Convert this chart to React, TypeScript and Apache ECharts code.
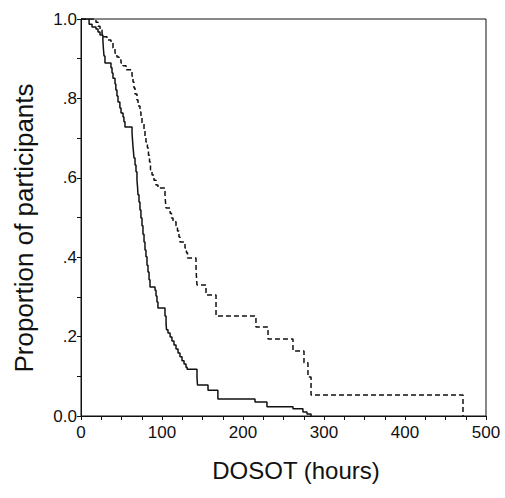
import React, { useEffect, useRef } from "react";
import * as echarts from "echarts";

// Kaplan-Meier style step curves: time (hours) and proportion remaining after each step
const solidTimes = [0, 10, 13.6, 18.5, 21, 23.5, 27, 27.6, 28.4, 29.6, 37, 38.3, 39.5, 42, 43, 44.4, 45.7, 48, 49.4, 51.9, 53, 54.3, 63, 63.6, 64.2, 64.8, 65.4, 66.7, 67.9, 69.1, 69.8, 70.4, 71.6, 72.8, 74, 75.3, 76.5, 77.8, 79, 80.2, 81.5, 82.7, 84, 85.2, 91.4, 92.6, 93.8, 95, 103.7, 105, 105.6, 107.4, 110, 112.3, 114.8, 117.3, 119.8, 122.2, 124.7, 127.2, 129.6, 131, 143.2, 143.8, 156.8, 169, 214.8, 229.6, 261.7, 274, 279, 284];
const solidSurv = [1, 0.987, 0.98, 0.975, 0.967, 0.96, 0.947, 0.927, 0.907, 0.889, 0.877, 0.864, 0.851, 0.836, 0.821, 0.806, 0.791, 0.776, 0.763, 0.753, 0.741, 0.728, 0.713, 0.695, 0.678, 0.665, 0.65, 0.632, 0.615, 0.594, 0.577, 0.557, 0.539, 0.519, 0.499, 0.479, 0.458, 0.438, 0.418, 0.401, 0.38, 0.363, 0.343, 0.325, 0.317, 0.302, 0.287, 0.272, 0.252, 0.232, 0.217, 0.209, 0.199, 0.189, 0.179, 0.169, 0.159, 0.149, 0.139, 0.131, 0.123, 0.118, 0.098, 0.078, 0.065, 0.043, 0.035, 0.023, 0.018, 0.01, 0.005, 0];

const dashedTimes = [0, 18.5, 21, 23.5, 26, 27.2, 32, 37, 39.5, 42, 44.4, 46.9, 49.4, 51.9, 55.6, 63, 64.2, 65.4, 66.7, 69.1, 70.4, 72.8, 74, 75.3, 77.8, 79, 80.2, 82, 83.3, 84.6, 85.8, 87.7, 90.1, 92.6, 95, 103.7, 104.3, 105, 110, 111.7, 113.6, 117.3, 119.1, 121, 122.2, 128.4, 130.2, 131.5, 142, 142.6, 143.2, 154.3, 166.7, 216, 230.9, 261.7, 275.3, 280.2, 284, 471.6];
const dashedSurv = [1, 0.992, 0.982, 0.972, 0.962, 0.955, 0.947, 0.94, 0.927, 0.914, 0.904, 0.897, 0.889, 0.882, 0.872, 0.856, 0.841, 0.826, 0.811, 0.796, 0.781, 0.766, 0.751, 0.736, 0.72, 0.705, 0.69, 0.675, 0.657, 0.64, 0.62, 0.607, 0.594, 0.582, 0.574, 0.557, 0.539, 0.524, 0.511, 0.499, 0.489, 0.479, 0.466, 0.451, 0.438, 0.423, 0.411, 0.398, 0.373, 0.348, 0.33, 0.305, 0.252, 0.224, 0.194, 0.164, 0.134, 0.098, 0.053, 0];

const xTitle = "DOSOT (hours)";
const yTitle = "Proportion of participants";

const FONT = "'Liberation Sans', Arial, sans-serif";

export default function App() {
  const ref = useRef<HTMLDivElement>(null);
  useEffect(() => {
    if (!ref.current) return;
    const chart = echarts.init(ref.current, undefined, { renderer: "svg" });
    const solid = solidTimes.map((t, i) => [t, solidSurv[i]]);
    const dashed = dashedTimes.map((t, i) => [t, dashedSurv[i]]);
    chart.setOption({
      animation: false,
      backgroundColor: "#fff",
      grid: {
        left: 81,
        top: 19,
        width: 405,
        height: 397,
        show: true,
        borderColor: "#111",
        borderWidth: 1,
        backgroundColor: "transparent",
      },
      xAxis: {
        type: "value",
        min: 0,
        max: 500,
        interval: 100,
        axisLine: { show: true, onZero: false, lineStyle: { color: "#111", width: 1 } },
        axisTick: { show: true, length: 4, lineStyle: { color: "#111" } },
        minorTick: { show: true, splitNumber: 4, length: 4, lineStyle: { color: "#111" } },
        splitLine: { show: false },
        axisLabel: { color: "#111", fontSize: 17, fontFamily: FONT, margin: 8 },
      },
      yAxis: {
        type: "value",
        min: 0,
        max: 1,
        interval: 0.2,
        axisLine: { show: true, onZero: false, lineStyle: { color: "#111", width: 1 } },
        axisTick: { show: true, length: 4, lineStyle: { color: "#111" } },
        minorTick: { show: true, splitNumber: 2, length: 4, lineStyle: { color: "#111" } },
        splitLine: { show: false },
        axisLabel: {
          color: "#111",
          fontSize: 17,
          fontFamily: FONT,
          margin: 4,
          formatter: (v: number) => {
            const s = v.toFixed(1);
            if (v === 0 || v === 1) return s;
            return s.replace(/^0/, "");
          },
        },
      },
      graphic: [
        {
          type: "text",
          x: 296,
          y: 470,
          style: {
            text: xTitle,
            fontSize: 24,
            fontFamily: FONT,
            fill: "#111",
            align: "center",
            verticalAlign: "middle",
          },
        },
        {
          type: "text",
          x: 24,
          y: 228,
          rotation: Math.PI / 2,
          style: {
            text: yTitle,
            fontSize: 26,
            fontFamily: FONT,
            fill: "#111",
            align: "center",
            verticalAlign: "middle",
          },
        },
      ],
      series: [
        {
          type: "line",
          data: solid,
          step: "end",
          symbol: "none",
          lineStyle: { color: "#111", width: 1.5 },
          z: 3,
        },
        {
          type: "line",
          data: dashed,
          step: "end",
          symbol: "none",
          lineStyle: { color: "#111", width: 1.5, type: [5, 3] },
          z: 3,
        },
      ],
    });
    return () => chart.dispose();
  }, []);
  return (
    <div
      ref={ref}
      style={{ position: "fixed", left: 0, top: 0, width: 505, height: 498 }}
    />
  );
}
